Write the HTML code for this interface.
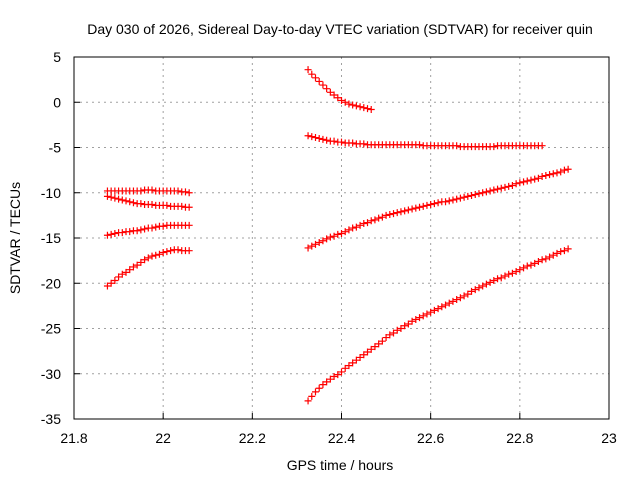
<!DOCTYPE html>
<html><head><meta charset="utf-8"><style>
body{margin:0;background:#fff;}
svg{display:block;font-family:"Liberation Sans",sans-serif;}
</style></head><body>
<svg id="c" width="640" height="480">
<text x="340" y="34" text-anchor="middle" font-size="14">Day 030 of 2026, Sidereal Day-to-day VTEC variation (SDTVAR) for receiver quin</text>
<text x="340" y="470" text-anchor="middle" font-size="14">GPS time / hours</text>
<text transform="translate(20,238) rotate(-90)" text-anchor="middle" font-size="14">SDTVAR / TECUs</text>
<g id="grid"></g><g id="axes"></g><g id="marks"></g>
</svg>
<script>
const xTicks=[21.8,22,22.2,22.4,22.6,22.8,23];
const yTicks=[5,0,-5,-10,-15,-20,-25,-30,-35];
const step=1/120;
const leftStart=21.875, rightStart=22.325;
const seriesA=[-9.8,-9.8,-9.8,-9.8,-9.8,-9.8,-9.8,-9.8,-9.8,-9.8,-9.7,-9.7,-9.7,-9.8,-9.8,-9.8,-9.8,-9.8,-9.8,-9.8,-9.9,-9.9,-10.0];
const seriesB=[-10.4,-10.5,-10.6,-10.7,-10.8,-10.9,-11.0,-11.1,-11.2,-11.2,-11.3,-11.3,-11.3,-11.4,-11.4,-11.4,-11.4,-11.5,-11.5,-11.5,-11.5,-11.6,-11.6];
const seriesC=[-14.7,-14.6,-14.5,-14.4,-14.4,-14.3,-14.3,-14.2,-14.2,-14.1,-14.0,-13.9,-13.9,-13.8,-13.7,-13.7,-13.6,-13.6,-13.6,-13.6,-13.6,-13.6,-13.6];
const seriesD=[-20.3,-20.0,-19.7,-19.3,-19.0,-18.8,-18.5,-18.2,-18.0,-17.7,-17.4,-17.2,-17.0,-16.9,-16.8,-16.6,-16.5,-16.4,-16.3,-16.3,-16.4,-16.4,-16.4];
const seriesE=[3.6,3.1,2.7,2.3,1.9,1.5,1.1,0.8,0.5,0.2,0.0,-0.2,-0.3,-0.4,-0.5,-0.6,-0.7,-0.8];
const seriesF=[-3.7,-3.8,-3.9,-4.0,-4.1,-4.2,-4.3,-4.3,-4.4,-4.4,-4.5,-4.5,-4.5,-4.6,-4.6,-4.6,
-4.7,-4.7,-4.7,-4.7,-4.7,-4.7,-4.7,-4.7,-4.7,-4.7,-4.7,-4.7,-4.7,-4.7,-4.7,
-4.8,-4.8,-4.8,-4.8,-4.8,-4.8,-4.8,-4.8,-4.8,-4.8,
-4.9,-4.9,-4.9,-4.9,-4.9,-4.9,-4.9,-4.9,-4.9,-4.9,
-4.8,-4.8,-4.8,-4.8,-4.8,-4.8,-4.8,-4.8,-4.8,-4.8,-4.8,-4.8,-4.8];
const seriesG=[-16.1,-15.9,-15.7,-15.5,-15.3,-15.1,-14.9,-14.8,-14.6,-14.5,
-14.3,-14.1,-13.9,-13.8,-13.6,-13.4,-13.3,-13.1,-13.0,-12.8,-12.7,-12.5,
-12.4,-12.3,-12.2,-12.1,-12.0,-11.9,-11.8,-11.7,-11.6,-11.5,-11.4,-11.3,
-11.2,-11.1,-11.0,-11.0,-10.9,-10.8,-10.7,-10.6,-10.5,-10.4,-10.3,-10.2,
-10.1,-10.0,-9.9,-9.8,-9.7,-9.6,-9.5,-9.4,-9.3,-9.2,-9.0,-8.9,
-8.8,-8.7,-8.6,-8.5,-8.4,-8.2,-8.1,-8.0,-7.9,-7.8,-7.7,-7.5,-7.4];
const seriesH=[-33.0,-32.5,-32.0,-31.6,-31.2,-30.9,-30.6,-30.3,-30.1,-29.8,
-29.4,-29.1,-28.8,-28.5,-28.2,-27.9,-27.6,-27.3,-27.0,-26.7,-26.4,-26.0,
-25.7,-25.5,-25.2,-25.0,-24.7,-24.5,-24.2,-24.0,-23.8,-23.6,-23.4,-23.2,
-23.0,-22.8,-22.6,-22.4,-22.2,-22.0,-21.8,-21.6,-21.4,-21.2,-20.9,-20.7,
-20.5,-20.3,-20.1,-19.9,-19.7,-19.5,-19.4,-19.2,-19.0,-18.9,-18.7,-18.5,
-18.3,-18.1,-18.0,-17.8,-17.6,-17.4,-17.3,-17.1,-16.9,-16.7,-16.5,-16.4,-16.2];

const L=74,R=609,T=57,B=419;
const X=v=>L+(v-21.8)/1.2*(R-L);
const Y=v=>T+(5-v)/40*(B-T);
const NS="http://www.w3.org/2000/svg";
function mk(tag,attrs,parent){const e=document.createElementNS(NS,tag);for(const k in attrs)e.setAttribute(k,attrs[k]);parent.appendChild(e);return e;}
const grid=document.getElementById('grid'),axes=document.getElementById('axes'),marks=document.getElementById('marks');
xTicks.forEach(t=>{const x=X(t);
 if(t>21.8&&t<23){const g=mk('line',{x1:x,x2:x,y1:T,y2:B,stroke:'#a0a0a0','stroke-dasharray':'2,4'},grid);
 
 }
 const tk=mk('line',{x1:x,x2:x,y1:B,y2:B-6,stroke:'#000'},axes);
 
 
 const tx=mk('text',{x:x,y:B+24,'text-anchor':'middle','font-size':14},axes);tx.textContent=String(t);
 
 
});
yTicks.forEach(t=>{const y=Y(t);
 if(t<5&&t>-35){const g=mk('line',{x1:L,x2:R,y1:y,y2:y,stroke:'#a0a0a0','stroke-dasharray':'2,4'},grid);
 
 }
 const tk=mk('line',{x1:L,x2:L+6,y1:y,y2:y,stroke:'#000'},axes);
 
 
 const tx=mk('text',{x:L-13,y:y+5,'text-anchor':'end','font-size':14},axes);tx.textContent=String(t);
 
 
});
const frame=mk('rect',{x:L,y:T,width:R-L,height:B-T,fill:'none',stroke:'#000'},axes);


function series(vals,start,name){
 const g=mk('g',{stroke:'#ff0000','stroke-width':1.2},marks);
 
 
 vals.forEach((v,i)=>{const x=X(start+i*step),y=Y(v);
  const p=mk('path',{d:`M${x-3.5},${y}H${x+3.5}M${x},${y-3.5}V${y+3.5}`},g);
  
  
 });
}
series(seriesA,leftStart,'series-a');
series(seriesB,leftStart,'series-b');
series(seriesC,leftStart,'series-c');
series(seriesD,leftStart,'series-d');
series(seriesE,rightStart,'series-e');
series(seriesF,rightStart,'series-f');
series(seriesG,rightStart,'series-g');
series(seriesH,rightStart,'series-h');
</script>
</body></html>
